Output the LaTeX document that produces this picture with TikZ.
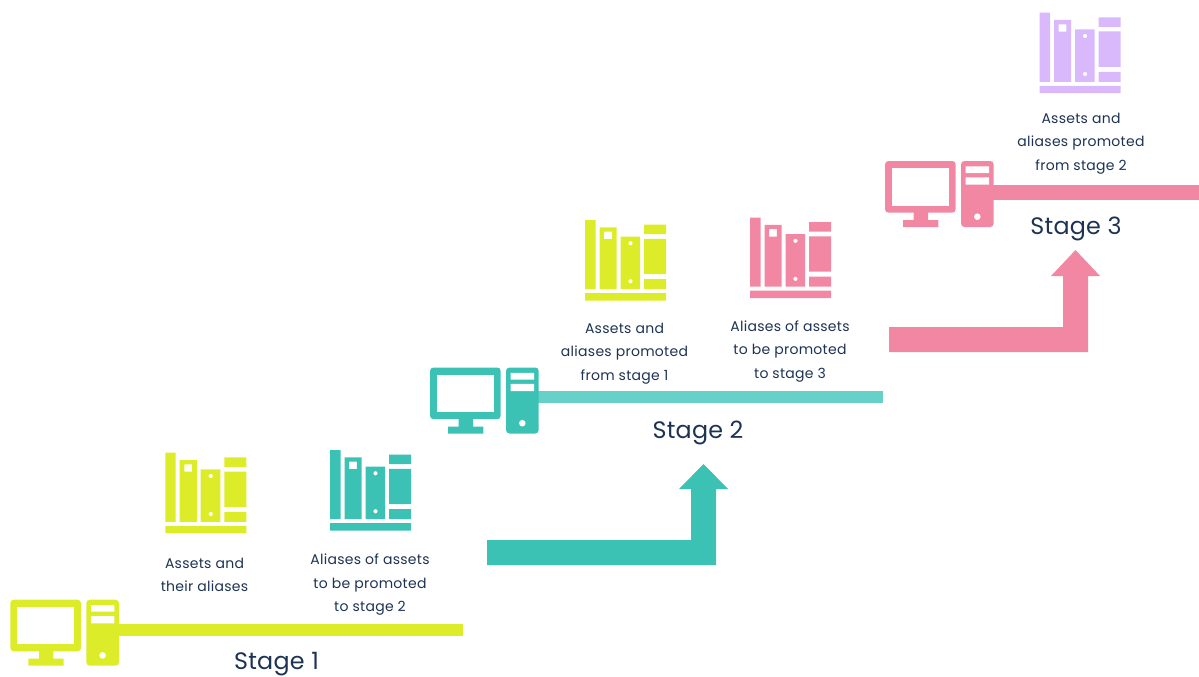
\documentclass[tikz,border=0pt]{standalone}
\usepackage{fontspec}
\setmainfont{Poppins}
\newfontfamily\smallface[LetterSpace=2]{Poppins}
\newfontfamily\stageface[LetterSpace=1]{Poppins}
\definecolor{lime}{HTML}{DCEC28}
\definecolor{teal}{HTML}{3CC2B5}
\definecolor{lteal}{HTML}{66D1C8}
\definecolor{pink}{HTML}{F187A3}
\definecolor{lilac}{HTML}{D9B8FB}
\definecolor{ink}{HTML}{1D3354}
\tikzset{
  x=1pt,y=-1pt,
  small/.style={font=\smallface\fontsize{14}{23.5}\selectfont,text=ink,align=center,inner sep=0pt},
  stagelabel/.style={font=\stageface\fontsize{23.8}{28}\selectfont,text=ink,inner sep=0pt},
  books/.pic={
    \fill[pic actions,even odd rule] (-0.4,0) rectangle (10,69.2)
      (14,7.3) rectangle (31.2,69.2) (18.7,11.7) rectangle (26.3,19)
      (35,16.7) rectangle (54.6,69.2) (45,23.3) circle[radius=2.2] (45,61.3) circle[radius=2.2]
      (58.7,4.7) rectangle (80.6,14.2) (58.7,18.8) rectangle (80.6,54.2) (58.7,59.1) rectangle (80.6,69.2)
      (-0.4,73.1) rectangle (80.6,80.5);
  },
  computer/.pic={
    \fill[pic actions,rounded corners=3.5] (0,0) rectangle (70.7,51.7);
    \fill[white] (7,7) rectangle (64,44.7);
    \fill[pic actions] (28.7,50) rectangle (43,60) (18,59) rectangle (53.3,66);
    \fill[pic actions,rounded corners=3.5] (76,0) rectangle (108.7,66);
    \fill[white] (80.7,5.3) rectangle (104,12) (80.7,16.3) rectangle (104,23.7) (92.3,55.7) circle[radius=3.3];
  }
}
\begin{document}
\begin{tikzpicture}
\useasboundingbox (0,0) rectangle (1199,677);
% stage 1
\fill[lime] (118,623.5) rectangle (463,635.5);
\pic[fill=lime] at (10.3,599.7) {computer};
\pic[fill=lime] at (165.7,452.7) {books};
\pic[fill=teal] at (330.5,450) {books};
\node[small] (t1) at (204.5,575) {Assets and\\their aliases};
\node[small] (t2) at (370,585) {Aliases of assets\\to be promoted\\to stage 2};
\node[stagelabel] (s1) at (276.5,664.5) {Stage 1};
% arrow 1
\fill[teal] (487,540) -- (691,540) -- (691,489) -- (679,489) -- (703.5,464) -- (728,489) -- (716,489) -- (716,565) -- (487,565) -- cycle;
% stage 2
\fill[lteal] (538,391) rectangle (883,403);
\pic[fill=teal] at (430,367.5) {computer};
\pic[fill=lime] at (585.5,220) {books};
\pic[fill=pink] at (750.5,217.5) {books};
\node[small] (t3) at (624.5,353.5) {Assets and\\aliases promoted\\from stage 1};
\node[small] (t4) at (790,351.5) {Aliases of assets\\to be promoted\\to stage 3};
\node[stagelabel] (s2) at (698,432.5) {Stage 2};
% arrow 2
\fill[pink] (889,327) -- (1063,327) -- (1063,276) -- (1051,276) -- (1075.5,250) -- (1100,276) -- (1088,276) -- (1088,352) -- (889,352) -- cycle;
% stage 3
\fill[pink] (993,184.7) rectangle (1199,200);
\pic[fill=pink] at (885,161) {computer};
\pic[fill=lilac] at (1040,12.7) {books};
\node[small] (t5) at (1081,143.5) {Assets and\\aliases promoted\\from stage 2};
\node[stagelabel] (s3) at (1076,228.5) {Stage 3};
\end{tikzpicture}
\end{document}
